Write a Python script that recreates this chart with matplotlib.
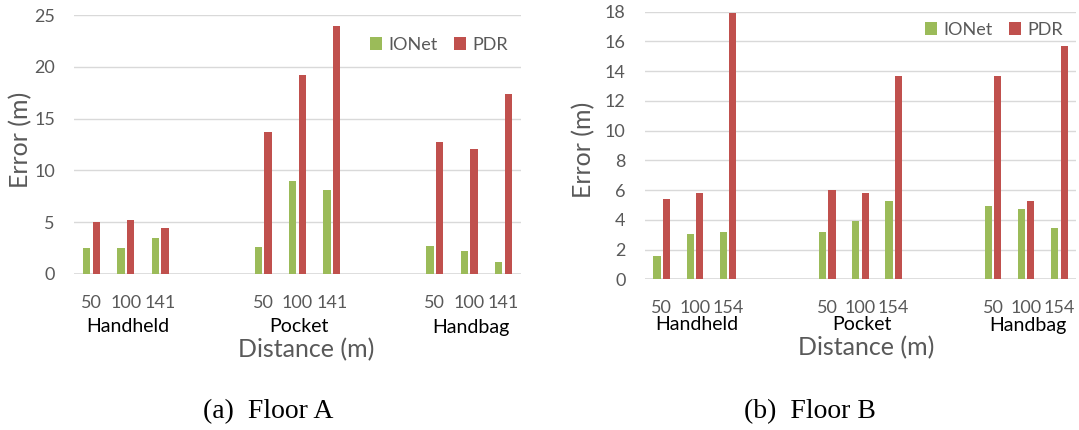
import matplotlib
matplotlib.use("Agg")
import matplotlib.pyplot as plt
from matplotlib.transforms import blended_transform_factory

plt.rcParams["font.family"] = ["Lato", "DejaVu Sans"]

# ---- data -------------------------------------------------------------
modes = ["Handheld", "Pocket", "Handbag"]
dist_a = ["50", "100", "141"]
dist_b = ["50", "100", "154"]

ionet_a = [2.5, 2.5, 3.5, 2.6, 9.0, 8.1, 2.7, 2.2, 1.2]
pdr_a = [5.0, 5.2, 4.4, 13.7, 19.2, 23.9, 12.7, 12.1, 17.4]

ionet_b = [1.6, 3.05, 3.2, 3.2, 3.9, 5.3, 4.95, 4.75, 3.45]
pdr_b = [5.4, 5.8, 17.9, 6.0, 5.8, 13.65, 13.65, 5.3, 15.7]

ymax_a, ystep_a = 25, 5
ymax_b, ystep_b = 18, 2

# ---- style ------------------------------------------------------------
GREEN = "#9BBB59"
RED = "#C0504D"
GRID = "#D9D9D9"
GREY_TXT = "#595959"

W, H = 1079, 430
fig = plt.figure(figsize=(W / 100, H / 100), dpi=100)


def px_axes(left, top, right, bottom):
    return fig.add_axes([left / W, 1 - bottom / H, (right - left) / W, (bottom - top) / H])


def draw_panel(ax, ionet, pdr, dists, ymax, ystep, box_px, legend_px, group_y, xlabel_px, ylabel_px):
    left, top, right, bottom = box_px
    # three slots per mode, two empty slots between modes
    slots = []
    for g in range(len(modes)):
        slots += [g * 5 + k for k in range(len(dists))]
    off, bw = 0.14, 0.215
    b1 = ax.bar([s - off for s in slots], ionet, width=bw, color=GREEN, label="IONet", zorder=3)
    b2 = ax.bar([s + off for s in slots], pdr, width=bw, color=RED, label="PDR", zorder=3)

    ax.set_xlim(-0.5, 12.5)
    ax.set_ylim(0, ymax)
    ax.set_yticks(range(0, ymax + 1, ystep))
    ax.yaxis.grid(True, color=GRID, linewidth=1.0, zorder=0)
    ax.set_axisbelow(True)
    for sp in ax.spines.values():
        sp.set_visible(False)
    ax.axhline(0, color=GRID, linewidth=1.2, zorder=2)

    ax.set_xticks(slots)
    ax.set_xticklabels(dists * len(modes))
    ax.tick_params(axis="both", length=0, labelsize=13, labelcolor=GREY_TXT)
    ax.tick_params(axis="x", pad=15)
    ax.tick_params(axis="y", pad=14)

    trans = blended_transform_factory(ax.transData, fig.transFigure)
    for g, m in enumerate(modes):
        ax.text(g * 5 + 1.05, 1 - group_y / H, m, transform=trans, ha="center", va="center",
                fontsize=14, color="black")

    ax.set_xlabel("Distance (m)", fontsize=18, color=GREY_TXT)
    ax.xaxis.label.set(va="center")
    ax.xaxis.set_label_coords((xlabel_px[0] - left) / (right - left),
                              (bottom - xlabel_px[1]) / (bottom - top))
    ax.set_ylabel("Error (m)", fontsize=18, color=GREY_TXT)
    ax.yaxis.label.set(va="center", ha="center", rotation_mode="default")
    ax.yaxis.set_label_coords((ylabel_px[0] - left) / (right - left),
                              (bottom - ylabel_px[1]) / (bottom - top))

    ax.legend(handles=[b1, b2], ncol=2, frameon=False, fontsize=13,
              labelcolor=GREY_TXT, handlelength=0.68, handleheight=0.68,
              handletextpad=0.34, columnspacing=0.9, borderpad=0, borderaxespad=0,
              loc="center right", bbox_to_anchor=(legend_px[0] / W, 1 - legend_px[1] / H),
              bbox_transform=fig.transFigure)


box_a = (74.4, 15.0, 520.7, 274.0)
box_b = (645.1, 11.7, 1076.0, 279.3)
ax_a = px_axes(*box_a)
ax_b = px_axes(*box_b)

draw_panel(ax_a, ionet_a, pdr_a, dist_a, ymax_a, ystep_a, box_a,
           legend_px=(508, 44.8), group_y=327, xlabel_px=(306, 350), ylabel_px=(21, 140))
draw_panel(ax_b, ionet_b, pdr_b, dist_b, ymax_b, ystep_b, box_b,
           legend_px=(1063, 29.9), group_y=325, xlabel_px=(866, 348), ylabel_px=(584, 150))

serif = ["Liberation Serif", "DejaVu Serif"]
fig.text(268 / W, 1 - 412 / H, "(a)  Floor A", ha="center", va="center",
         fontsize=20, family=serif, color="black")
fig.text(810 / W, 1 - 412 / H, "(b)  Floor B", ha="center", va="center",
         fontsize=20, family=serif, color="black")

fig.savefig("out.png", dpi=100, facecolor="white")
